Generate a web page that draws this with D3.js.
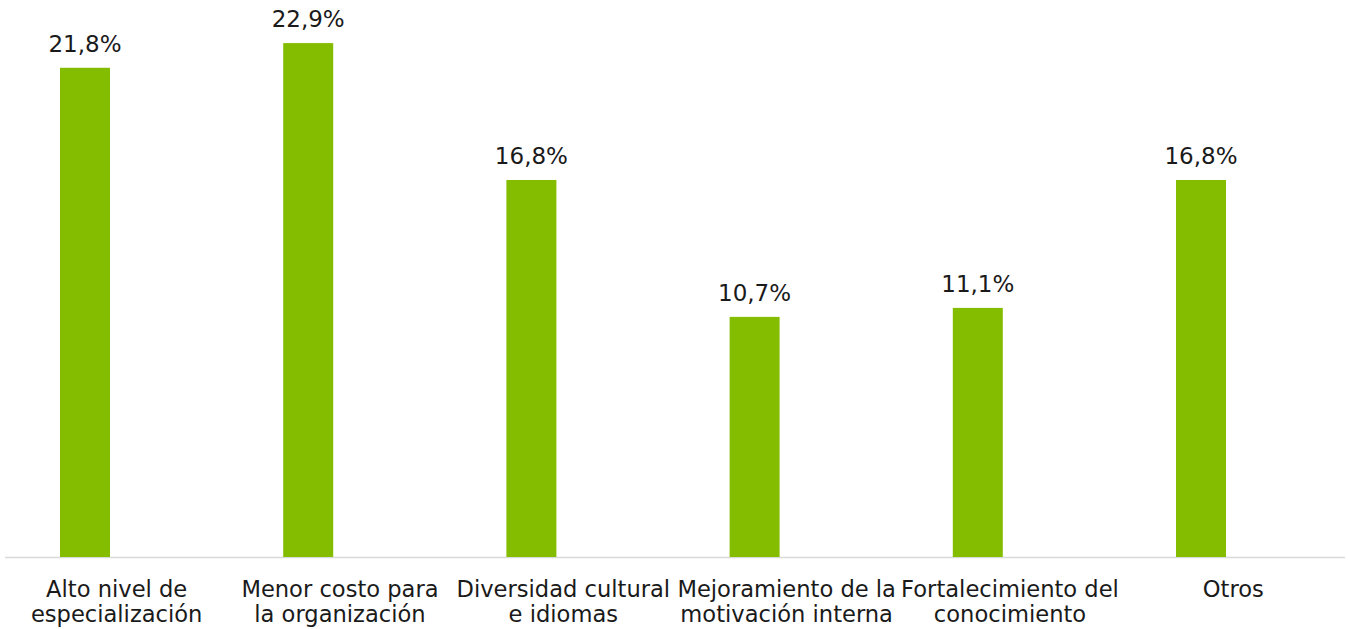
<!DOCTYPE html>
<html><head><meta charset="utf-8">
<script src="https://cdn.jsdelivr.net/npm/d3@7"></script>
<style>body{margin:0;background:#fff}svg{display:block}</style>
</head><body>
<script>
const categories = [
  ["Alto nivel de","especialización"],
  ["Menor costo para","la organización"],
  ["Diversidad cultural","e idiomas"],
  ["Mejoramiento de la","motivación interna"],
  ["Fortalecimiento del","conocimiento"],
  ["Otros"]
];
const values = [21.8, 22.9, 16.8, 10.7, 11.1, 16.8];
const valueLabels = ["21,8%","22,9%","16,8%","10,7%","11,1%","16,8%"];

const W = 1348, H = 629;
const font = "'DejaVu Sans', Verdana, sans-serif";
const svg = d3.select("body").append("svg").attr("width", W).attr("height", H);

// axis / category label scale
const x = d3.scaleBand().domain(d3.range(categories.length)).range([5, 1345]).padding(0);
// bars sit slightly left of the category centres in the reference
const xBar = d3.scaleBand().domain(d3.range(categories.length)).range([-26.6, 1312.6]).padding(0);
const y = d3.scaleLinear().domain([0, 24.82]).range([557, 0]);
const bw = xBar.bandwidth() * 0.224;

svg.append("line").attr("x1", 5).attr("x2", 1345).attr("y1", y(0) + 0.5).attr("y2", y(0) + 0.5)
  .attr("stroke", "#d9d9d9").attr("stroke-width", 1.5);

svg.selectAll("rect.bar").data(values).enter().append("rect")
  .attr("x", (d, i) => xBar(i) + xBar.bandwidth() / 2 - bw / 2)
  .attr("y", d => y(d)).attr("width", bw).attr("height", d => y(0) - y(d))
  .attr("fill", "#84bd00");

svg.selectAll("text.val").data(values).enter().append("text")
  .attr("x", (d, i) => xBar(i) + xBar.bandwidth() / 2).attr("y", d => y(d) - 16)
  .attr("text-anchor", "middle").attr("font-family", font).attr("font-size", 23)
  .attr("fill", "#1a1a1a").text((d, i) => valueLabels[i]);

const cat = svg.selectAll("text.cat").data(categories).enter().append("text")
  .attr("x", (d, i) => x(i) + x.bandwidth() / 2).attr("y", 597)
  .attr("text-anchor", "middle").attr("font-family", font).attr("font-size", 22.6)
  .attr("fill", "#1a1a1a");
cat.selectAll("tspan").data(d => d).enter().append("tspan")
  .attr("x", function() { return d3.select(this.parentNode).attr("x"); })
  .attr("dy", (d, i) => i === 0 ? 0 : 25).text(d => d);
</script>
</body></html>
